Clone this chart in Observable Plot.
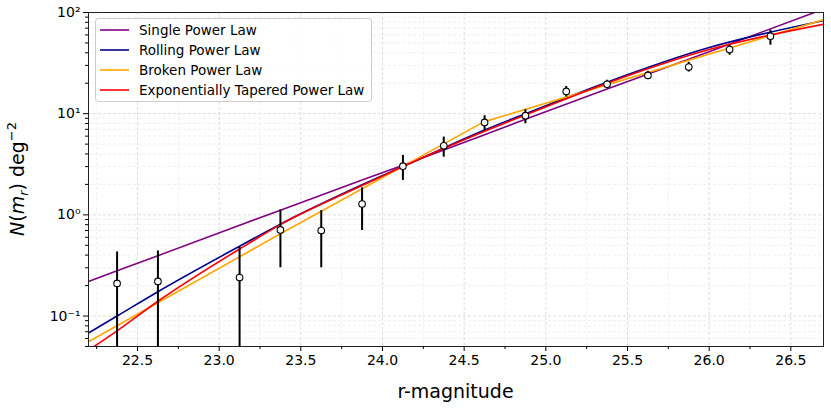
<!DOCTYPE html>
<html><head><meta charset="utf-8">
<script src="https://cdn.jsdelivr.net/npm/d3@7"></script>
<script src="https://cdn.jsdelivr.net/npm/@observablehq/plot@0.6"></script>
<style>
body{margin:0;background:#fff} #chart{width:831px;height:411px}
#chart svg g[aria-label="x-axis tick label"], #chart svg g[aria-label="y-axis tick label"] { font-size: 14px !important; font-family: "DejaVu Sans" !important; }
</style>
</head><body><div id="chart"></div>
<script>
// Observed number counts with error bars
const magnitudes = [22.375, 22.625, 23.125, 23.375, 23.625, 23.875, 24.125, 24.375, 24.625, 24.875, 25.125, 25.375, 25.625, 25.875, 26.125, 26.375];
const counts     = [0.21, 0.22, 0.24, 0.71, 0.70, 1.28, 3.03, 4.82, 8.2, 9.55, 16.6, 19.5, 23.9, 28.9, 43, 58.2];
const errLow     = [0.01, 0.01, 0.01, 0.30, 0.30, 0.70, 2.19, 3.72, 6.83, 7.95, 14.6, 17.7, 21.7, 25.8, 37.8, 47.5];
const errHigh    = [0.43, 0.44, 0.48, 1.12, 1.10, 1.85, 3.87, 5.87, 9.55, 10.96, 18.6, 21.4, 26.2, 32.2, 47.5, 66.8];

// Model curves
const modelMags   = [22.2, 22.375, 22.625, 23.125, 23.375, 23.875, 24.125, 24.625, 24.875, 25.375, 26.0, 26.7];
const singlePL    = [0.22, 0.28, 0.395, 0.79, 1.11, 2.21, 3.1, 6.2, 8.8, 17.5, 41, 108];
const rollingPL   = [0.068, 0.10, 0.174, 0.49, 0.81, 1.98, 3.0, 6.9, 10.0, 20.5, 45, 83];
const taperedPL   = [0.046, 0.0715, 0.14, 0.46, 0.80, 1.95, 3.0, 6.7, 9.7, 20.0, 43, 76.6];
const brokenMags  = [22.2, 23.375, 24.62, 26.7];
const brokenPL    = [0.0557, 0.65, 8.3, 85];

const legendLabels = ["Single Power Law", "Rolling Power Law", "Broken Power Law", "Exponentially Tapered Power Law"];
const legendColors = ["purple", "darkblue", "orange", "red"];

const xMajor = [22.5, 23, 23.5, 24, 24.5, 25, 25.5, 26, 26.5];
const xMinor = [22.25, 22.75, 23.25, 23.75, 24.25, 24.75, 25.25, 25.75, 26.25];
const yMajor = [0.1, 1, 10, 100];
const yMajorLabels = ["10\u207B\u00B9", "10\u2070", "10\u00B9", "10\u00B2"];
const yMinor = [0.05,0.06,0.07,0.08,0.09,0.2,0.3,0.4,0.5,0.6,0.7,0.8,0.9,2,3,4,5,6,7,8,9,20,30,40,50,60,70,80,90];

const points = magnitudes.map((m, i) => ({m, n: counts[i], lo: errLow[i], hi: errHigh[i]}));
const single  = modelMags.map((m, i) => ({m, v: singlePL[i]}));
const rolling = modelMags.map((m, i) => ({m, v: rollingPL[i]}));
const broken  = brokenMags.map((m, i) => ({m, v: brokenPL[i]}));
const tapered = modelMags.map((m, i) => ({m, v: taperedPL[i]}));

function legendMark(index, scales, values, dim) {
  const g = d3.create("svg:g").attr("font-family", "DejaVu Sans").attr("font-size", 13.5).attr("text-anchor", "start");
  const x0 = dim.marginLeft + 7.5, y0 = dim.marginTop + 6.5;
  g.append("rect").attr("x", x0).attr("y", y0).attr("width", 276).attr("height", 83)
    .attr("rx", 3).attr("fill", "white").attr("fill-opacity", 0.85).attr("stroke", "#cccccc");
  legendLabels.forEach((lab, i) => {
    const cy = y0 + 11.5 + i * 20;
    g.append("line").attr("x1", x0 + 4.5).attr("x2", x0 + 33.5).attr("y1", cy).attr("y2", cy)
      .attr("stroke", legendColors[i]).attr("stroke-width", 1.6);
    g.append("text").attr("x", x0 + 43.5).attr("y", cy).attr("dy", "0.35em")
      .attr("text-anchor", "start").attr("fill", "black").text(lab);
  });
  return g.node();
}

function axisLabels(index, scales, values, dim) {
  const g = d3.create("svg:g").attr("font-family", "DejaVu Sans").attr("fill", "black");
  const cx = dim.marginLeft + (dim.width - dim.marginLeft - dim.marginRight) / 2;
  const cy = dim.marginTop + (dim.height - dim.marginTop - dim.marginBottom) / 2;
  g.append("text").attr("x", cx).attr("y", dim.height - 13).attr("text-anchor", "middle")
    .attr("font-size", 19).text("r-magnitude");
  const t = g.append("text").attr("transform", `translate(24,${cy}) rotate(-90)`)
    .attr("text-anchor", "middle").attr("font-size", 19);
  t.append("tspan").attr("font-style", "italic").text("N");
  t.append("tspan").text("(");
  t.append("tspan").attr("font-style", "italic").text("m");
  t.append("tspan").attr("font-style", "italic").attr("font-size", 13).attr("dy", 4).text("r");
  t.append("tspan").attr("dy", -4).text(") deg");
  t.append("tspan").attr("font-size", 13).attr("dy", -8).text("\u22122");
  return g.node();
}

const gridStyle = {stroke: "#d6d6d6", strokeOpacity: 1, strokeDasharray: "3,2", strokeWidth: 0.8};
const minorGridStyle = {stroke: "#ececec", strokeOpacity: 1, strokeDasharray: "3,2", strokeWidth: 0.8};

const chart = Plot.plot({
  width: 831, height: 411,
  marginLeft: 88, marginRight: 8, marginTop: 12, marginBottom: 65,
  style: {fontFamily: "DejaVu Sans", fontSize: "14px", color: "black", background: "white"},
  x: {domain: [22.2, 26.7]},
  y: {type: "log", domain: [0.05, 100]},
  marks: [
    Plot.gridY(yMinor, minorGridStyle),
    Plot.gridX(xMinor, minorGridStyle),
    Plot.gridY(yMajor, gridStyle),
    Plot.gridX(xMajor, gridStyle),
    Plot.line(single,  {x: "m", y: "v", stroke: legendColors[0], strokeWidth: 1.6, clip: true}),
    Plot.line(rolling, {x: "m", y: "v", stroke: legendColors[1], strokeWidth: 1.6, curve: "monotone-x", clip: true}),
    Plot.line(broken,  {x: "m", y: "v", stroke: legendColors[2], strokeWidth: 1.6, clip: true}),
    Plot.line(tapered, {x: "m", y: "v", stroke: legendColors[3], strokeWidth: 1.6, curve: "monotone-x", clip: true}),
    Plot.ruleX(points, {x: "m", y1: "lo", y2: "hi", stroke: "black", strokeWidth: 2, clip: true}),
    Plot.dot(points, {x: "m", y: "n", r: 3.3, fill: "white", stroke: "black", strokeWidth: 1.1}),
    Plot.frame({stroke: "#222", strokeWidth: 1}),
    Plot.axisX(xMajor, {tickSize: 5, tickPadding: 4, fontSize: 14, tickFormat: d => d.toFixed(1), label: null}),
    Plot.axisX(xMinor, {tickSize: 3, tickFormat: () => "", label: null}),
    Plot.axisY(yMajor, {tickSize: 5, tickPadding: 3, fontSize: 14, tickFormat: d => yMajorLabels[yMajor.indexOf(d)], label: null}),
    Plot.axisY(yMinor, {tickSize: 3, tickFormat: () => "", label: null}),
    legendMark,
    axisLabels
  ]
});
document.getElementById("chart").appendChild(chart);
</script>
</body></html>
